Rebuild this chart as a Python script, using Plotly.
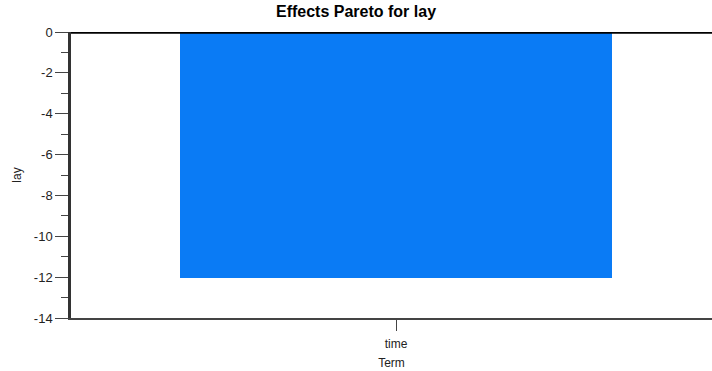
import plotly.graph_objects as go

# ── data ──────────────────────────────────────────────────────────────────────
terms = ["time"]
effects = [-12.05]
y_ticks = [0, -2, -4, -6, -8, -10, -12, -14]
y_tick_text = ["0", "-2", "-4", "-6", "-8", "-10", "-12", "-14"]

BAR = "#0A7BF5"
INK = "#222222"
FONT = "Liberation Sans, Arial, sans-serif"

fig = go.Figure()
fig.add_trace(go.Bar(
    x=terms, y=effects,
    width=0.665,
    marker=dict(color=BAR, line=dict(width=0)),
    showlegend=False,
))

# thick line at zero along the top of the plot
fig.add_shape(type="line", xref="paper", yref="y", x0=0, x1=1, y0=0, y1=0,
              line=dict(color="black", width=3.5), layer="above")

fig.update_layout(
    width=712, height=371,
    margin=dict(l=71, r=0, t=32, b=53, autoexpand=False),
    paper_bgcolor="white", plot_bgcolor="white",
    font=dict(family=FONT, color=INK, size=12),
    title=dict(text="<b>Effects Pareto for lay</b>", x=0.5, xanchor="center",
               y=0.985, yanchor="top", font=dict(size=16, color="black")),
    bargap=0,
)
fig.update_xaxes(
    range=[-0.5, 0.486], automargin=False,
    showline=True, linecolor="#444444", linewidth=1.5,
    ticks="outside", ticklen=11, tickcolor="#444444", tickwidth=1,
    ticklabelstandoff=3,
    showgrid=False, zeroline=False,
    title=dict(text="Term", standoff=8, font=dict(size=12)),
    tickfont=dict(size=12),
)
fig.update_yaxes(
    range=[-14, 0], automargin=False,
    tickvals=y_ticks, ticktext=y_tick_text,
    showline=True, linecolor="#333333", linewidth=2.5,
    ticks="outside", ticklen=13, tickcolor="#444444", tickwidth=1,
    minor=dict(ticks="outside", ticklen=7, dtick=1, tickcolor="#444444",
               showgrid=False),
    showgrid=False, zeroline=False,
    title=dict(text="lay", standoff=10, font=dict(size=12)),
    tickfont=dict(size=13, color="#222222"),
)

# drop the default page margin so the figure fills the window exactly
fig.write_html(
    "out.html",
    config={"displayModeBar": False},
    post_script="document.body.style.margin='0';document.body.style.overflow='hidden';",
)
